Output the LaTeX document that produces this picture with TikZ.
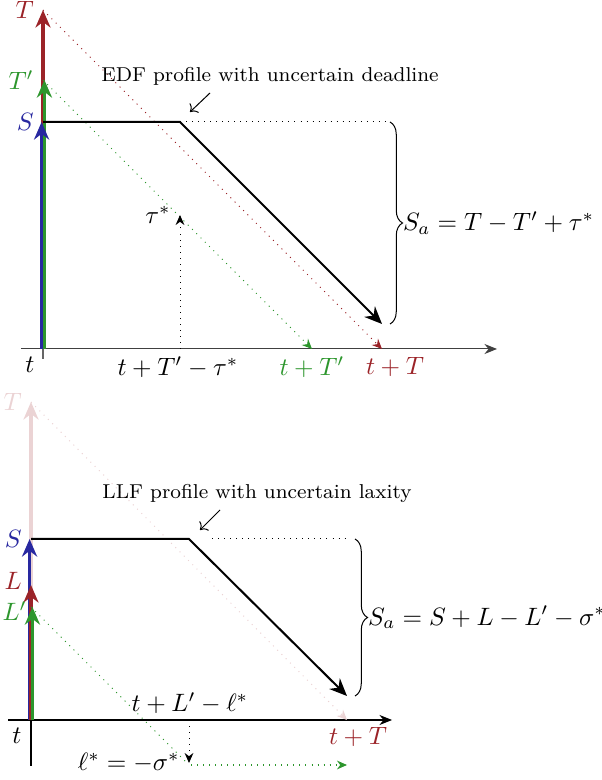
\documentclass[tikz,border=0pt]{standalone}
\usepackage{amsmath}
\usetikzlibrary{arrows.meta,positioning,calc,decorations.pathreplacing}
\definecolor{dlcolor}{RGB}{155,35,40}
\definecolor{estcolor}{RGB}{45,150,45}
\definecolor{slcolor}{RGB}{40,40,160}

\begin{document}
\begin{tikzpicture}[x=1.4cm,y=1.4cm,
  axis/.style={-{Stealth[length=5pt,width=4pt]},thin},
  budget/.style={-{Stealth[length=7pt,width=6pt]},line width=1.3pt},
  profile/.style={-{Stealth[length=7pt,width=6pt]},thick},
  proj/.style={-{Stealth[length=4pt,width=3.5pt]},dotted},
  guide/.style={dotted},
  note/.style={font=\footnotesize},
  lbl/.style={inner sep=0.5pt},
  sabrace/.style={decorate,decoration={brace,amplitude=5pt}}
]
\useasboundingbox (0,0) rectangle (6.02,7.80);

% EDF profile
\begin{scope}[shift={(0.43,4.31)}]
\coordinate (o1) at (0,0);
\coordinate (xa1) at (-0.22,0);
\coordinate (xb1) at (4.54,0);
\coordinate (ya1) at (0,-0.1);
\coordinate (T1) at (0,3.39);
\coordinate (Tp1) at (0,2.69);
\coordinate (S1) at (0,2.27);
\coordinate (c1) at (1.37,2.27);
\coordinate (e1) at (3.39,0.25);
\coordinate (d1) at (3.42,2.27);
\coordinate (k1) at (1.37,0);
\coordinate (tau1) at (1.37,1.34);
\coordinate (xT1) at (3.39,0);
\coordinate (xTp1) at (2.69,0);
\coordinate (bt1) at (3.47,2.27);
\coordinate (bb1) at (3.47,0.25);
\draw[axis,black!75] (xa1) -- (xb1);
\draw[thin,black!60] (ya1) -- (S1);
% budgets
\draw[budget,dlcolor] (o1) -- (T1);
\draw[budget,estcolor] ([xshift=0.02cm]o1) -- ([xshift=0.02cm]Tp1);
\draw[budget,slcolor] ([xshift=-0.02cm]o1) -- ([xshift=-0.02cm]S1);
\node[lbl,dlcolor,left=3pt of T1] (lT1) {$T$};
\node[lbl,estcolor,left=3pt of Tp1] (lTp1) {$T'$};
\node[lbl,slcolor,left=3pt of S1] (lS1) {$S$};
% projections
\draw[proj,dlcolor] (T1) -- (xT1);
\draw[proj,estcolor] (Tp1) -- (xTp1);
\draw[proj,black] (k1) -- (tau1);
\node[lbl,left=3pt of tau1] (ltau1) {$\tau^*$};
% profile
\draw[guide] (c1) -- (d1);
\draw[profile] (S1) -- (c1) -- (e1);
\draw[sabrace] (bt1) -- (bb1) node[midway,right=5pt,inner sep=0pt] (sa1) {$S_a = T - T' + \tau^*$};
% axis labels
\node[lbl] (t1) at (-0.13,-0.16) {$t$};
\node[lbl] (lk1) at (1.35,-0.18) {$t + T' - \tau^*$};
\node[lbl,estcolor] (lxTp1) at (2.69,-0.18) {$t + T'$};
\node[lbl,dlcolor] (lxT1) at (3.52,-0.18) {$t + T$};
\node[note] (n1) at (2.27,2.73) {EDF profile with uncertain deadline};
\draw[->] (1.67,2.56) -- (1.47,2.37);
\end{scope}

% LLF profile
\begin{scope}[shift={(0.31,0.60)}]
\coordinate (o2) at (0,0);
\coordinate (xa2) at (-0.23,0);
\coordinate (xb2) at (3.61,0);
\coordinate (ya2) at (0,-0.46);
\coordinate (T2) at (0,3.18);
\coordinate (S2) at (0,1.81);
\coordinate (L2) at (0,1.35);
\coordinate (Lp2) at (0,1.13);
\coordinate (c2) at (1.58,1.81);
\coordinate (e2) at (3.16,0.24);
\coordinate (da2) at (1.81,1.81);
\coordinate (db2) at (3.14,1.81);
\coordinate (k2) at (1.58,0);
\coordinate (ell2) at (1.58,-0.43);
\coordinate (g2) at (1.55,-0.42);
\coordinate (ga2) at (1.60,-0.45);
\coordinate (gb2) at (3.16,-0.45);
\coordinate (xT2) at (3.16,0);
\coordinate (bt2) at (3.24,1.81);
\coordinate (bb2) at (3.24,0.24);
\draw[axis] (xa2) -- (xb2);
\draw[thin] (ya2) -- (S2);
% budgets
\draw[budget,dlcolor!20] (o2) -- (T2);
\draw[budget,slcolor] ([xshift=-0.02cm]o2) -- ([xshift=-0.02cm]S2);
\draw[budget,dlcolor] (o2) -- (L2);
\draw[budget,estcolor] ([xshift=0.02cm]o2) -- ([xshift=0.02cm]Lp2);
\node[lbl,dlcolor!20,left=3pt of T2] (lT2) {$T$};
\node[lbl,slcolor,left=3pt of S2] (lS2) {$S$};
\node[lbl,dlcolor,left=3pt of L2,yshift=1.5pt] (lL2) {$L$};
\node[lbl,estcolor,left=1pt of Lp2,yshift=-1.5pt] (lLp2) {$L'$};
% projections
\draw[proj,dlcolor!20] (T2) -- (xT2);
\draw[guide,estcolor] (Lp2) -- (g2);
\draw[proj,estcolor] (ga2) -- (gb2);
\draw[proj,black] (k2) -- (ell2);
\node[lbl,left=3pt of ell2] (lell2) {$\ell^* = -\sigma^*$};
\node[lbl] (lk2) at (1.59,0.17) {$t + L' - \ell^*$};
% profile
\draw[guide] (da2) -- (db2);
\draw[profile] (S2) -- (c2) -- (e2);
\draw[sabrace] (bt2) -- (bb2) node[midway,right=5pt,inner sep=0pt] (sa2) {$S_a = S + L - L' - \sigma^*$};
% axis labels
\node[lbl] (t2) at (-0.14,-0.16) {$t$};
\node[lbl,dlcolor] (lxT2) at (3.27,-0.17) {$t + T$};
\node[note] (n2) at (2.26,2.27) {LLF profile with uncertain laxity};
\draw[->] (1.89,2.10) -- (1.69,1.90);
\end{scope}
\end{tikzpicture}
\end{document}
